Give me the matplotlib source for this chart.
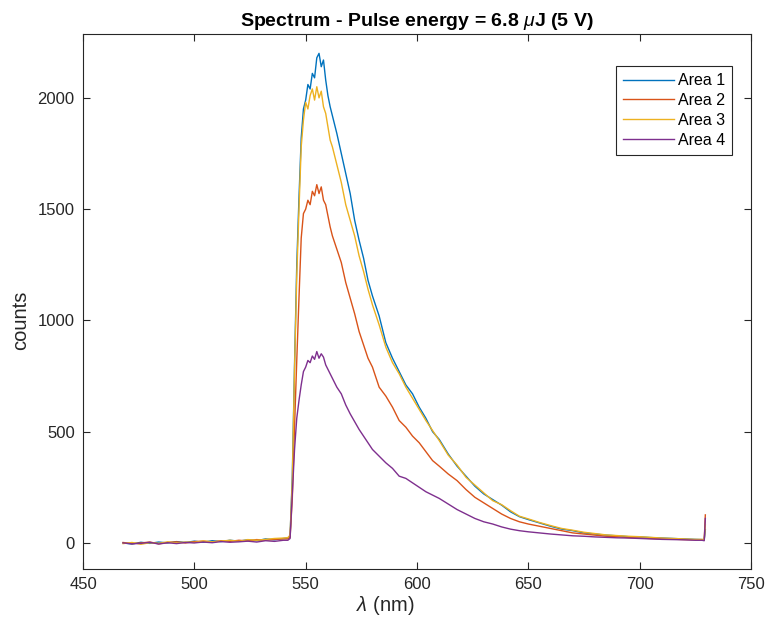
import matplotlib
matplotlib.use("Agg")
import matplotlib.pyplot as plt

plt.rcParams['font.family'] = ['Liberation Sans', 'DejaVu Sans']
plt.rcParams['mathtext.fontset'] = 'custom'
plt.rcParams['mathtext.it'] = 'Liberation Sans:italic'
plt.rcParams['mathtext.rm'] = 'Liberation Sans'

# wavelength grid (nm)
wavelength = [468, 472, 476, 480, 484, 488, 492, 496, 500, 504, 508, 512, 516, 520, 524, 528, 532, 536, 540,
              542, 543,
              544, 545, 546, 547, 548, 549, 550, 551, 552, 553, 554, 555, 556, 557, 558, 559, 560, 561, 562,
              564, 566, 568, 570, 572, 574, 576, 578, 580,
              583, 586, 589, 592, 595, 598, 601, 604, 607, 610,
              614, 618, 622, 626, 630, 634, 638, 642, 646,
              650, 655, 660, 665, 670, 675, 680, 685, 690, 695, 700, 705, 710, 715, 720, 725,
              728, 729, 729.5]

area1 = [0, -5, 3, -2, 4, 0, 6, 2, 8, 3, 10, 6, 12, 8, 14, 10, 18, 14, 20,
         22, 30,
         300, 800, 1250, 1550, 1820, 1950, 1990, 2060, 2040, 2110, 2090, 2180, 2200, 2140, 2170, 2080, 2010, 1960, 1920,
         1840, 1750, 1660, 1570, 1450, 1360, 1280, 1180, 1110,
         1020, 900, 830, 770, 710, 670, 610, 560, 500, 465,
         400, 345, 300, 255, 220, 195, 170, 140, 118,
         105, 90, 75, 62, 55, 45, 40, 35, 32, 28, 27, 24, 22, 20, 18, 16,
         15, 14, 60]

area2 = [2, -3, 0, 4, -4, 2, 5, 0, 6, 8, 4, 10, 7, 12, 9, 15, 12, 16, 18,
         18, 25,
         200, 520, 820, 1100, 1370, 1480, 1500, 1540, 1520, 1580, 1560, 1610, 1570, 1600, 1540, 1520, 1470, 1420, 1380,
         1320, 1260, 1170, 1100, 1030, 950, 890, 830, 790,
         700, 660, 610, 550, 520, 480, 450, 410, 370, 345,
         310, 280, 240, 205, 180, 155, 130, 110, 95,
         85, 75, 65, 55, 45, 40, 35, 30, 28, 24, 22, 20, 18, 17, 15, 14,
         14, 13, 126]

area3 = [-3, 2, -6, 1, -2, 5, 0, 4, 2, 9, 5, 8, 12, 7, 15, 12, 16, 20, 22,
         24, 35,
         280, 780, 1200, 1500, 1780, 1900, 1980, 1950, 2010, 2040, 1990, 2050, 2000, 2030, 1960, 1930, 1870, 1810, 1780,
         1700, 1620, 1520, 1450, 1380, 1290, 1220, 1140, 1070,
         980, 880, 810, 760, 700, 650, 600, 550, 505, 460,
         395, 350, 295, 260, 225, 190, 172, 145, 120,
         108, 92, 78, 65, 57, 48, 42, 36, 33, 30, 28, 25, 22, 20, 18, 16,
         16, 15, 80]

area4 = [0, -4, -2, 3, -5, 1, -3, 2, 0, 4, 1, 6, 3, 5, 8, 4, 10, 7, 12,
         12, 20,
         220, 420, 560, 640, 710, 770, 790, 820, 810, 840, 825, 860, 830, 850, 835, 800, 780, 760, 740,
         700, 670, 620, 580, 545, 510, 480, 450, 420,
         390, 360, 335, 300, 290, 270, 250, 230, 215, 200,
         175, 150, 130, 110, 95, 85, 72, 62, 55,
         50, 45, 40, 36, 32, 30, 27, 25, 23, 22, 20, 18, 16, 15, 14, 12,
         12, 10, 110]

series = [("Area 1", area1, "#0072BD"),
          ("Area 2", area2, "#D95319"),
          ("Area 3", area3, "#EDB120"),
          ("Area 4", area4, "#7E2F8E")]

fig = plt.figure(figsize=(7.7, 6.26), dpi=100)
ax = fig.add_axes([0.1078, 0.0911, 0.8675, 0.8546])

for name, vals, col in series:
    ax.plot(wavelength, vals, color=col, lw=1.0, label=name)

ax.set_xlim(450, 750)
ax.set_ylim(-117, 2287)
ax.set_xticks([450, 500, 550, 600, 650, 700, 750])
ax.set_yticks([0, 500, 1000, 1500, 2000])

gray = "#262626"
for s in ax.spines.values():
    s.set_color(gray)
    s.set_linewidth(0.8)
ax.tick_params(direction="in", top=True, right=True, length=5, width=0.8,
               colors=gray, labelsize=12, pad=6)

ax.set_xlabel(r"$\lambda$ (nm)", fontsize=14.5, color=gray, labelpad=1)
ax.set_ylabel("counts", fontsize=14.5, color=gray, labelpad=5)
ax.xaxis.label.set_x(0.452)
ax.yaxis.label.set_y(0.465)
ax.set_title(r"Spectrum - Pulse energy = 6.8 $\mu$J (5 V)", fontsize=14,
             fontweight="bold", color="black", pad=6)

leg = ax.legend(loc="upper right", bbox_to_anchor=(0.9716, 0.940), borderaxespad=0,
                fontsize=11.5, fancybox=False, framealpha=1, edgecolor=gray,
                handlelength=3.2, handletextpad=0.2, borderpad=0.45, labelspacing=0.3)
leg.get_frame().set_linewidth(0.8)

fig.savefig("out.png", dpi=100)
